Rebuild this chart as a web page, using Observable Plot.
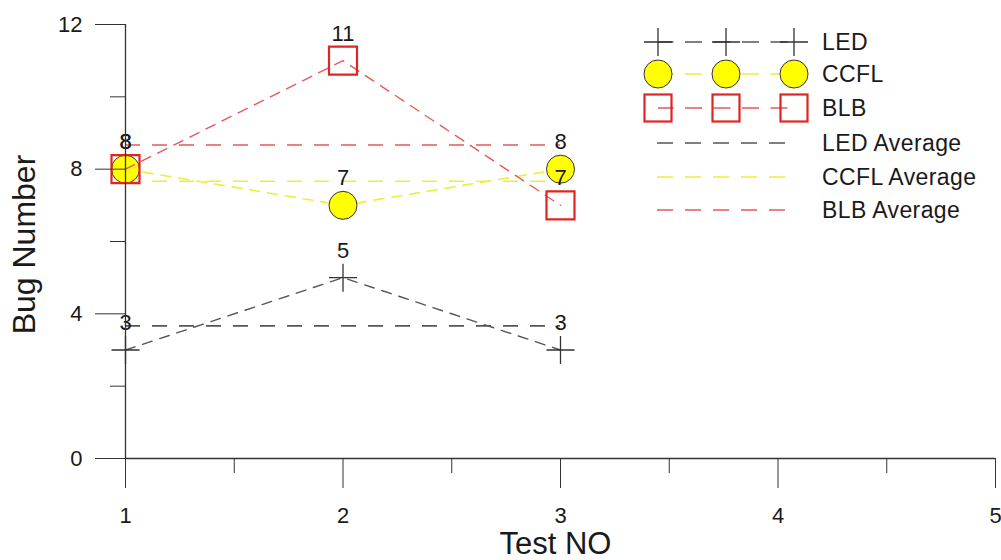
<!DOCTYPE html>
<html>
<head>
<meta charset="utf-8">
<script src="https://cdn.jsdelivr.net/npm/d3@7"></script>
<script src="https://cdn.jsdelivr.net/npm/@observablehq/plot@0.6"></script>
<style>
  html, body { margin: 0; padding: 0; background: #fff; }
  #wrap { position: relative; width: 1001px; height: 560px; }
  #legend { position: absolute; left: 0; top: 0; pointer-events: none; }
</style>
</head>
<body>
<div id="wrap"></div>
<script>
// ---- data ----
const tests = [1, 2, 3];
const led = [3, 5, 3];
const ccfl = [8, 7, 8];
const blb = [8, 11, 7];
const seriesNames = ["LED", "CCFL", "BLB"];
const xTicks = [1, 2, 3, 4, 5];
const xMinorTicks = [1.5, 2.5, 3.5, 4.5];
const yTicks = [0, 4, 8, 12];
const yMinorTicks = [2, 6, 10];
const xLabel = "Test NO";
const yLabel = "Bug Number";

// ---- styles ----
const FONT = "'Liberation Sans', Arial, sans-serif";
const styles = {
  LED:  {line: "#555555", avg: "#555555", mark: "#333333"},
  CCFL: {line: "#eeee3a", avg: "#eeee3a", mark: "#333333", fill: "#ffff00"},
  BLB:  {line: "#e25a5a", avg: "#e25a5a", mark: "#e02424"}
};

const values = [led, ccfl, blb];
const series = seriesNames.map((name, k) => ({
  name,
  points: tests.map((t, i) => ({test: t, value: values[k][i], series: name})),
  avg: d3.mean(values[k])
}));

const plusSymbol = {
  draw(ctx, size) {
    const h = Math.sqrt(size / Math.PI);
    ctx.moveTo(-h, 0); ctx.lineTo(h, 0);
    ctx.moveTo(0, -h); ctx.lineTo(0, h);
  }
};
const squareSymbol = {
  draw(ctx, size) {
    const h = Math.sqrt(size / Math.PI);
    ctx.moveTo(-h, -h); ctx.lineTo(h, -h); ctx.lineTo(h, h); ctx.lineTo(-h, h); ctx.closePath();
  }
};

const [sLED, sCCFL, sBLB] = series;
const avgSpan = {x1: tests[0], x2: tests[tests.length - 1]};

const marks = [
  // average lines
  ...series.map(s => Plot.ruleY([s.avg], {...avgSpan, stroke: styles[s.name].avg, strokeWidth: 1.6, strokeDasharray: "15,12"})),
  // LED
  Plot.line(sLED.points, {x: "test", y: "value", stroke: styles.LED.line, strokeWidth: 1.4, strokeDasharray: "10,8"}),
  Plot.dot(sLED.points, {x: "test", y: "value", symbol: plusSymbol, r: 14, stroke: styles.LED.mark, strokeWidth: 1.3, fill: "none"}),
  // CCFL
  Plot.line(sCCFL.points, {x: "test", y: "value", stroke: styles.CCFL.line, strokeWidth: 1.6, strokeDasharray: "10,8"}),
  Plot.dot(sCCFL.points, {x: "test", y: "value", r: 14, fill: styles.CCFL.fill, stroke: styles.CCFL.mark, strokeWidth: 1}),
  // BLB
  Plot.line(sBLB.points, {x: "test", y: "value", stroke: styles.BLB.line, strokeWidth: 1.4, strokeDasharray: "10,8"}),
  Plot.dot(sBLB.points, {x: "test", y: "value", symbol: squareSymbol, r: 14, stroke: styles.BLB.mark, strokeWidth: 2.2, fill: "none"}),
  // value labels
  ...series.map(s => Plot.text(s.points, {x: "test", y: "value", text: d => String(d.value), dy: -27, fontSize: 22, fill: "#1a1a1a", lineAnchor: "middle"})),
  // axes lines
  Plot.ruleY([0], {stroke: "#333", strokeWidth: 1.3}),
  Plot.ruleX([xTicks[0]], {stroke: "#333", strokeWidth: 1.3}),
  // axes
  Plot.axisY({ticks: yTicks, tickSize: 30, tickPadding: 13, label: null, fontSize: 22, stroke: "#333", fill: "#1a1a1a"}),
  Plot.axisY({ticks: yMinorTicks, tickSize: 15, tickFormat: () => "", label: null, stroke: "#333"}),
  Plot.axisX({ticks: xTicks, tickSize: 30, tickPadding: 19, label: null, fontSize: 22, stroke: "#333", fill: "#1a1a1a", tickFormat: d => String(d)}),
  Plot.axisX({ticks: xMinorTicks, tickSize: 15, tickFormat: () => "", label: null, stroke: "#333"}),
  // axis titles
  Plot.text([xLabel], {frameAnchor: "bottom", text: d => d, dx: -5, dy: 86, fontSize: 31, fill: "#1a1a1a", lineAnchor: "middle", textAnchor: "middle"}),
  Plot.text([yLabel], {frameAnchor: "left", text: d => d, dx: -101, dy: 3, rotate: -90, fontSize: 32, fill: "#1a1a1a", lineAnchor: "middle", textAnchor: "middle"})
];

const chart = Plot.plot({
  width: 1001,
  height: 560,
  marginLeft: 125,
  marginRight: 6,
  marginTop: 24,
  marginBottom: 102,
  x: {domain: [xTicks[0], xTicks[xTicks.length - 1]]},
  y: {domain: [yTicks[0], yTicks[yTicks.length - 1]]},
  style: {fontFamily: FONT, background: "#fff", color: "#1a1a1a", overflow: "visible"},
  marks
});
document.getElementById("wrap").appendChild(chart);

// ---- legend overlay ----
const legend = d3.create("svg")
  .attr("id", "legend")
  .attr("width", 1001)
  .attr("height", 560)
  .style("font-family", FONT);

const markerX = [658, 726, 794];
const rowY = [42, 74, 108];
const avgRowY = [143, 177, 210];
const textX = 822;

series.forEach((s, k) => {
  const y = rowY[k];
  const st = styles[s.name];
  legend.append("line")
    .attr("x1", markerX[0]).attr("x2", markerX[2]).attr("y1", y).attr("y2", y)
    .attr("stroke", st.line).attr("stroke-width", 1.5)
    .attr("stroke-dasharray", "17,11.5").attr("stroke-dashoffset", 1.5);
  markerX.forEach(x => {
    if (s.name === "LED") {
      legend.append("path").attr("d", `M${x - 14},${y}H${x + 14}M${x},${y - 14}V${y + 14}`)
        .attr("stroke", st.mark).attr("stroke-width", 1.3).attr("fill", "none");
    } else if (s.name === "CCFL") {
      legend.append("circle").attr("cx", x).attr("cy", y).attr("r", 14)
        .attr("fill", st.fill).attr("stroke", st.mark).attr("stroke-width", 1);
    } else {
      legend.append("rect").attr("x", x - 13.5).attr("y", y - 13.5).attr("width", 27).attr("height", 27)
        .attr("fill", "none").attr("stroke", st.mark).attr("stroke-width", 2.2);
    }
  });
  legend.append("text").attr("x", textX).attr("y", y).attr("dy", "0.36em")
    .attr("font-size", 23).attr("letter-spacing", "0.4px").attr("fill", "#1a1a1a").text(s.name);
});

series.forEach((s, k) => {
  const y = avgRowY[k];
  legend.append("line")
    .attr("x1", 657).attr("x2", 788).attr("y1", y).attr("y2", y)
    .attr("stroke", styles[s.name].avg).attr("stroke-width", 1.6)
    .attr("stroke-dasharray", "16,12");
  legend.append("text").attr("x", textX).attr("y", y).attr("dy", "0.36em")
    .attr("font-size", 23).attr("letter-spacing", "0.4px").attr("fill", "#1a1a1a").text(`${s.name} Average`);
});

document.getElementById("wrap").appendChild(legend.node());
</script>
</body>
</html>
